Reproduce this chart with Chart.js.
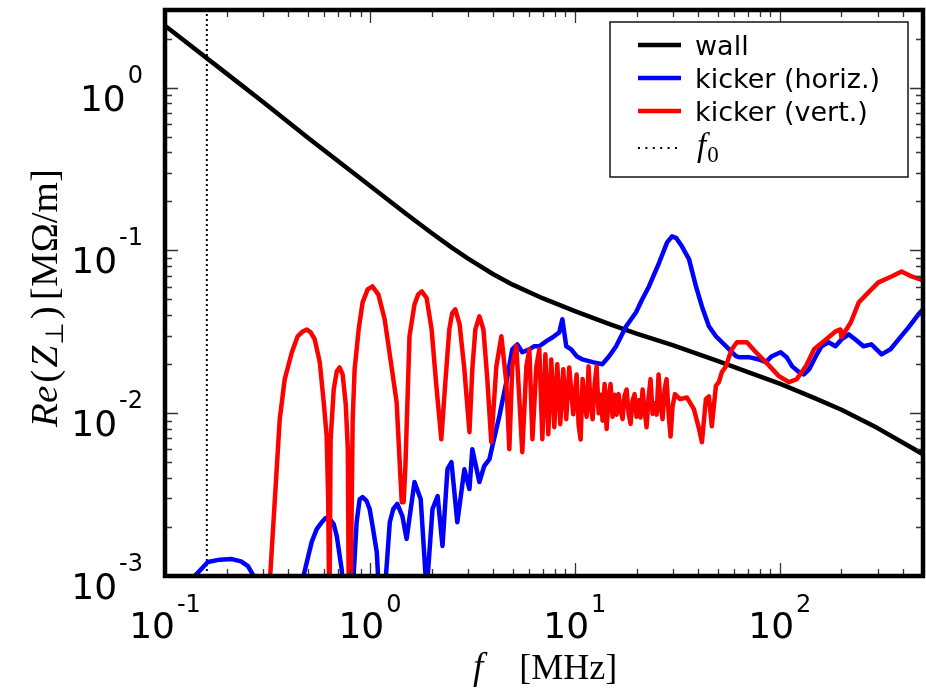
<!DOCTYPE html>
<html>
<head>
<meta charset="utf-8">
<script src="https://cdn.jsdelivr.net/npm/chart.js@4.4.0/dist/chart.umd.min.js"></script>
<style>
  html, body { margin: 0; padding: 0; background: #fff; }
  canvas { display: block; }
</style>
</head>
<body>
<canvas id="impedanceChart" width="926" height="690"></canvas>
<script>
// frequency in MHz, Re(Z_perp) in MOhm/m
const wallFreq = [0.1, 0.2, 0.3, 0.5, 1, 1.5, 2, 2.5, 3, 4, 5, 7, 10, 15, 20, 30, 50, 70, 100, 150, 200, 300, 500];
const wallRe = [2.4, 1.22, 0.82, 0.49, 0.25, 0.168, 0.128, 0.1045, 0.0895, 0.0714, 0.0614, 0.0507, 0.0424, 0.035, 0.0308, 0.0262, 0.0209, 0.0179, 0.0152, 0.0123, 0.0105, 0.0081, 0.0056];

const horizFreq = [0.129, 0.162, 0.185, 0.212, 0.235, 0.254, 0.284, 0.406, 0.454, 0.520,
  0.550, 0.582, 0.608, 0.637, 0.666, 0.689, 0.728, 0.762, 0.824, 0.861,
  0.891, 0.921, 0.963, 0.997, 1.03, 1.08, 1.13, 1.19, 1.25, 1.30,
  1.36, 1.44, 1.51, 1.65, 1.77, 1.89, 2.02, 2.14, 2.26, 2.39,
  2.50, 2.67, 2.89, 3.06, 3.16, 3.42, 3.61, 3.83, 3.96, 4.28,
  4.63, 4.95, 5.24, 5.54, 6.00, 6.34, 6.71, 7.26, 7.77, 8.40,
  8.69, 9.08, 9.60, 10.2, 10.9, 12.2, 13.6, 14.7, 15.9, 17.8,
  19.9, 21.3, 23.0, 25.8, 28.2, 29.8, 31.3, 33.3, 36.1, 39.0, 41.7,
  45.1, 48.8, 54.6, 61.1, 63.2, 70.7, 79.1, 85.5, 91.5, 101,
  108, 115, 124, 131, 139, 150, 160, 173, 187, 200,
  217, 234, 256, 280, 314, 347, 380, 425, 475, 500];
const horizRe = [0.0009, 0.00122, 0.00126, 0.00127, 0.00123, 0.00115, 0.0009, 0.0003, 0.0008, 0.00162,
  0.00194, 0.00214, 0.00227, 0.00224, 0.00208, 0.00176, 0.0011, 0.0005, 0.0008, 0.00214,
  0.00296, 0.00305, 0.00289, 0.00258, 0.00203, 0.0014, 0.0005, 0.0009, 0.00214, 0.00258,
  0.00277, 0.00233, 0.00169, 0.00378, 0.00296, 0.0008, 0.00258, 0.0031, 0.00153, 0.00453,
  0.005, 0.00214, 0.00453, 0.00342, 0.00601, 0.00378, 0.00473, 0.00522, 0.00628, 0.00959,
  0.0155, 0.0247, 0.0265, 0.0237, 0.0247, 0.0258, 0.0258, 0.0277, 0.0292, 0.0314,
  0.0378, 0.0258, 0.0247, 0.0224, 0.0214, 0.0206, 0.0200, 0.0224, 0.0258, 0.0342,
  0.0417, 0.05, 0.0601, 0.0843, 0.112, 0.122, 0.119, 0.106, 0.0881, 0.0601, 0.0453,
  0.0342, 0.0297, 0.0258, 0.0224, 0.0221, 0.0221, 0.0214, 0.0206, 0.0224, 0.0237,
  0.0221, 0.0194, 0.0179, 0.0173, 0.0186, 0.0224, 0.0258, 0.0273, 0.0258, 0.0284,
  0.0305, 0.0284, 0.0258, 0.0265, 0.0230, 0.0247, 0.0284, 0.0337, 0.0405, 0.0435];

const vertFreq = [0.318, 0.343, 0.363, 0.384, 0.416, 0.444, 0.470, 0.492, 0.514, 0.538, 0.569, 0.595,
  0.615, 0.626, 0.634, 0.643, 0.666, 0.689, 0.711, 0.736, 0.762, 0.780,
  0.790, 0.805, 0.824, 0.842, 0.881, 0.921, 0.975, 1.03, 1.10, 1.18,
  1.26, 1.35, 1.40, 1.43, 1.46, 1.49, 1.56, 1.65, 1.72, 1.79, 1.89,
  2.00, 2.11, 2.23, 2.34, 2.44, 2.52, 2.61, 2.74, 2.89, 3.06, 3.16,
  3.27, 3.42, 3.58, 3.74, 3.91, 4.14, 4.38, 4.63, 4.79, 4.95,
  5.18, 5.36, 5.54, 5.80, 6.00, 6.21, 6.49, 6.71, 6.94, 7.18,
  7.42, 7.67, 7.94, 8.21, 8.49, 8.78, 9.08, 9.39, 9.82, 10.2,
  10.43, 10.67, 10.91, 11.16, 11.41, 11.67, 11.94, 12.21, 12.49, 12.77,
  13.06, 13.36, 13.66, 13.97, 14.29, 14.61, 14.94, 15.28, 15.63, 15.98,
  16.35, 16.72, 17.10, 17.49, 17.89, 18.29, 18.71, 19.13, 19.57, 20.01,
  20.47, 20.93, 21.41, 21.89, 22.39, 22.90, 23.42, 23.95, 24.50, 25.05,
  25.62, 26.20, 26.80, 27.41, 28.03, 28.67, 29.32, 29.98, 30.8, 32.6,
  35.2, 38.1, 40.4, 41.7, 43.6, 45.1, 46.6, 48.8, 50.4, 52.2,
  54.6, 56.5, 58.4, 61.8, 69.1, 76.5, 85.5, 99, 111, 121,
  134, 147, 168, 187, 198, 200, 222, 243, 271, 303,
  351, 393, 440, 500];
const vertRe = [0.0006, 0.00284, 0.00919, 0.0162, 0.0237, 0.0297, 0.0318, 0.0327, 0.0314, 0.0284, 0.0206, 0.0117,
  0.00723, 0.00284, 0.0005, 0.0069, 0.014, 0.0181, 0.0191, 0.0173, 0.0114, 0.00601,
  0.0005, 0.0007, 0.0092, 0.0186, 0.0327, 0.048, 0.0576, 0.0601, 0.0535, 0.0378,
  0.0214, 0.0117, 0.00473, 0.00284, 0.00284, 0.00473, 0.0297, 0.0466, 0.0537, 0.056, 0.0512,
  0.0327, 0.0147, 0.00692, 0.0162, 0.0327, 0.0412, 0.0435, 0.0351, 0.0186, 0.00765, 0.0186,
  0.0327, 0.0394, 0.0327, 0.0162, 0.00664, 0.0194, 0.0297, 0.0155, 0.00601, 0.0194,
  0.0258, 0.0122, 0.00576, 0.0194, 0.0247, 0.00692, 0.0194, 0.0247, 0.00692, 0.0230,
  0.00743, 0.0214, 0.00820, 0.0200, 0.00857, 0.0186, 0.00919, 0.0191, 0.00986, 0.0173,
  0.0085, 0.0069, 0.0162, 0.0120, 0.0095, 0.0194, 0.0110, 0.0092, 0.0150, 0.0194,
  0.0100, 0.0130, 0.0090, 0.0151, 0.0080, 0.0125, 0.0151, 0.0095, 0.0130, 0.0098,
  0.0131, 0.0105, 0.0092, 0.0128, 0.0140, 0.0100, 0.0086, 0.0120, 0.0131, 0.0095,
  0.0120, 0.0094, 0.0140, 0.0105, 0.0082, 0.0125, 0.0162, 0.0099, 0.0115, 0.0098,
  0.0173, 0.0110, 0.0092, 0.0140, 0.0162, 0.0100, 0.0072, 0.0110, 0.0131, 0.0122,
  0.0125, 0.0106, 0.00798, 0.00664, 0.0122, 0.0127, 0.00832, 0.0147, 0.0155, 0.0179,
  0.0194, 0.0221, 0.0247, 0.0273, 0.0273, 0.0237, 0.0206, 0.0169, 0.0155, 0.0162,
  0.0194, 0.0247, 0.0284, 0.0318, 0.0327, 0.0293, 0.0361, 0.048, 0.0552, 0.0637,
  0.0692, 0.0743, 0.0692, 0.0655];

const f0 = 0.16;   // revolution frequency marker
const xDecades = [-1, 0, 1, 2];
const yDecades = [-3, -2, -1, 0];
const seriesLabels = ['wall', 'kicker (horiz.)', 'kicker (vert.)', 'f_0'];

const serif = '"Liberation Serif", "DejaVu Serif", serif';
const sans = '"DejaVu Sans", sans-serif';

function toPoints(xs, ys) {
  return xs.map(function(x, i) { return { x: x, y: ys[i] }; });
}

// "10" with a raised exponent, like matplotlib's log tick labels
function drawPower(ctx, exp, x, baseY, align, rise) {
  const expText = exp < 0 ? '-' + (-exp) : String(exp);
  ctx.font = '36px ' + sans;
  const w1 = ctx.measureText('10').width;
  ctx.font = '24px ' + sans;
  const w2 = ctx.measureText(expText).width;
  const total = w1 + 2 + w2;
  const x0 = align === 'center' ? x - total / 2 : x - total;
  ctx.textAlign = 'left';
  ctx.textBaseline = 'alphabetic';
  ctx.font = '36px ' + sans;
  ctx.fillText('10', x0, baseY);
  ctx.font = '24px ' + sans;
  ctx.fillText(expText, x0 + w1 + 2, baseY - rise);
}

// draws a list of text pieces left to right, returns the width
function drawPieces(ctx, pieces, x, y, measureOnly) {
  let cx = x;
  pieces.forEach(function(p) {
    ctx.font = p.font;
    if (!measureOnly) ctx.fillText(p.t, cx, y + (p.dy || 0));
    cx += ctx.measureText(p.t).width + (p.gap || 0);
  });
  return cx - x;
}

const frameAndLabels = {
  id: 'frameAndLabels',
  afterDraw: function(chart) {
    const ctx = chart.ctx;
    const a = chart.chartArea;
    const xs = chart.scales.x, ys = chart.scales.y;
    ctx.save();
    ctx.fillStyle = '#000';

    // tick marks on all four sides, pointing inwards
    ctx.strokeStyle = '#333';
    ctx.lineWidth = 1.3;
    function tick(v, len, axis) {
      ctx.beginPath();
      if (axis === 'x') {
        const px = Math.round(xs.getPixelForValue(v)) + 0.5;
        ctx.moveTo(px, a.bottom); ctx.lineTo(px, a.bottom - len);
        ctx.moveTo(px, a.top); ctx.lineTo(px, a.top + len);
      } else {
        const py = Math.round(ys.getPixelForValue(v)) + 0.5;
        ctx.moveTo(a.left, py); ctx.lineTo(a.left + len, py);
        ctx.moveTo(a.right, py); ctx.lineTo(a.right - len, py);
      }
      ctx.stroke();
    }
    [-1, 0, 1, 2].forEach(function(d) {
      for (let m = 1; m <= 9; m++) {
        const v = m * Math.pow(10, d);
        if (v >= xs.min && v <= xs.max) tick(v, m === 1 ? 13 : 7, 'x');
      }
    });
    [-3, -2, -1, 0].forEach(function(d) {
      for (let m = 1; m <= 9; m++) {
        const v = m * Math.pow(10, d);
        if (v >= ys.min && v <= ys.max) tick(v, m === 1 ? 13 : 7, 'y');
      }
    });

    // frame
    ctx.strokeStyle = '#000';
    ctx.lineWidth = 4.5;
    ctx.strokeRect(a.left, a.top, a.right - a.left, a.bottom - a.top);

    // tick labels
    xDecades.forEach(function(d) {
      drawPower(ctx, d, xs.getPixelForValue(Math.pow(10, d)), 638, 'center', 26);
    });
    yDecades.forEach(function(d) {
      drawPower(ctx, d, 143, ys.getPixelForValue(Math.pow(10, d)) + 23, 'right', 28);
    });

    // x title
    ctx.textAlign = 'left';
    ctx.textBaseline = 'alphabetic';
    drawPieces(ctx, [
      { t: 'f', font: 'italic 37px ' + serif, gap: 36 },
      { t: '[MHz]', font: '36px ' + serif }
    ], 473, 679);

    // y title, rotated
    const yPieces = [
      { t: 'Re', font: 'italic 38px ' + serif, gap: 3 },
      { t: '(', font: '38px ' + serif, gap: 2 },
      { t: 'Z', font: 'italic 38px ' + serif, gap: 1 },
      { t: '\u22A5', font: '25px "DejaVu Sans"', dy: 6, gap: 3 },
      { t: ')', font: '38px ' + serif, gap: 6 },
      { t: '[M\u03A9/m]', font: '38px ' + serif }
    ];
    const yw = drawPieces(ctx, yPieces, 0, 0, true);
    ctx.save();
    ctx.translate(57, 298);
    ctx.rotate(-Math.PI / 2);
    ctx.scale(258 / yw, 1);
    drawPieces(ctx, yPieces, -yw / 2, 0);
    ctx.restore();

    // legend box
    const lx = 610, ly = 22, lw = 298, lh = 155;
    ctx.fillStyle = '#fff';
    ctx.fillRect(lx, ly, lw, lh);
    ctx.strokeStyle = '#222';
    ctx.lineWidth = 1.6;
    ctx.strokeRect(lx, ly, lw, lh);
    const rowY = [45, 78, 111, 148];
    chart.data.datasets.forEach(function(ds, i) {
      const y = rowY[i];
      ctx.strokeStyle = ds.borderColor;
      ctx.lineWidth = ds.borderWidth;
      ctx.setLineDash(ds.borderDash ? [2, 5.4] : []);
      ctx.beginPath();
      ctx.moveTo(638, y);
      ctx.lineTo(681, y);
      ctx.stroke();
      ctx.setLineDash([]);
      ctx.fillStyle = '#000';
      const parts = ds.label.split('_');
      if (parts.length > 1) {
        drawPieces(ctx, [
          { t: parts[0], font: 'italic 33px ' + serif, gap: 1 },
          { t: parts[1], font: '23px ' + serif, dy: 6 }
        ], 697, y + 8);
      } else {
        ctx.font = '27px ' + sans;
        ctx.fillText(ds.label, 695, y + 10);
      }
    });
    ctx.restore();
  }
};

new Chart(document.getElementById('impedanceChart'), {
  type: 'line',
  data: {
    datasets: [
      { label: seriesLabels[0], data: toPoints(wallFreq, wallRe), borderColor: '#000000', borderWidth: 4.5, order: 3 },
      { label: seriesLabels[1], data: toPoints(horizFreq, horizRe), borderColor: '#0000ff', borderWidth: 4.5, order: 2 },
      { label: seriesLabels[2], data: toPoints(vertFreq, vertRe), borderColor: '#ff0000', borderWidth: 4.5, order: 1 },
      { label: seriesLabels[3], data: [{ x: f0, y: 0.001 }, { x: f0, y: 3 }], borderColor: '#000000', borderWidth: 2, borderDash: [2, 3], order: 4 }
    ]
  },
  options: {
    responsive: false,
    animation: false,
    devicePixelRatio: 1,
    layout: { padding: { left: 165, right: 3, top: 10, bottom: 114 } },
    elements: {
      point: { radius: 0 },
      line: { tension: 0, fill: false, borderJoinStyle: 'round', borderCapStyle: 'butt' }
    },
    datasets: { line: { clip: 0 } },
    plugins: { legend: { display: false }, tooltip: { enabled: false } },
    scales: {
      x: { type: 'logarithmic', min: 0.1, max: 500, display: false },
      y: { type: 'logarithmic', min: 0.001, max: 3, display: false }
    }
  },
  plugins: [frameAndLabels]
});
</script>
</body>
</html>
